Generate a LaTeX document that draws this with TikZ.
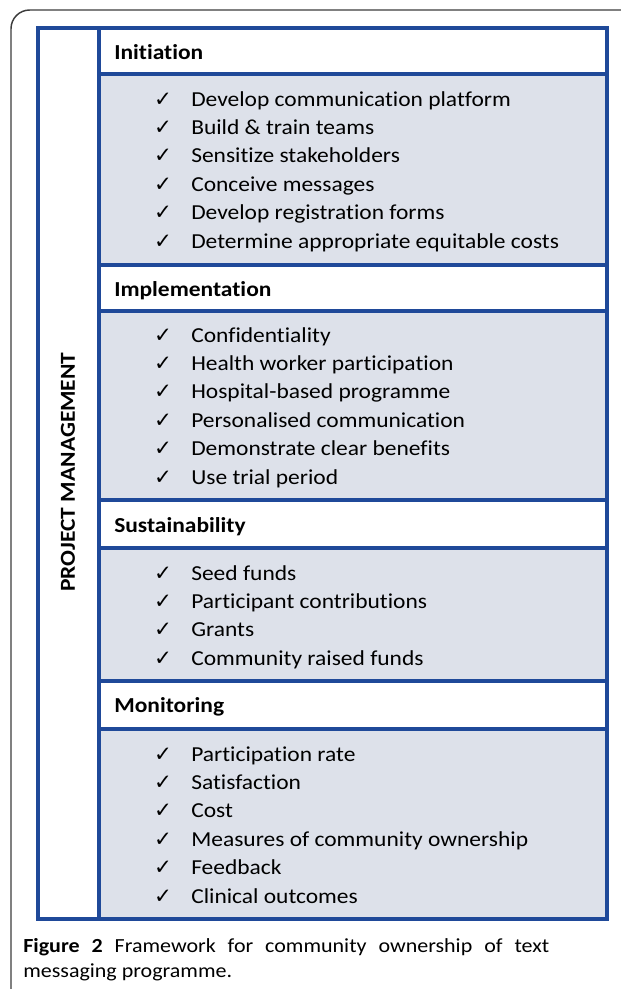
\documentclass[tikz,border=0pt]{standalone}
\usepackage{fontspec}
\setmainfont[FakeStretch=1.1,Ligatures=NoCommon]{Carlito}
\newfontfamily\capfont[FakeStretch=1.1,Ligatures=NoCommon]{Carlito}
\newfontfamily\symfont{DejaVu Sans}
\definecolor{frameblue}{RGB}{31,73,153}
\definecolor{boxfill}{RGB}{221,225,234}
\definecolor{outline}{RGB}{60,60,60}

\begin{document}
\begin{tikzpicture}[x=0.75pt,y=-0.75pt,
	hdr/.style={anchor=base west,inner sep=0pt,font=\bfseries\fontsize{16}{19}\selectfont},
	item/.style={anchor=base west,inner sep=0pt,font=\fontsize{16}{19}\selectfont},
	tick/.style={anchor=base,inner sep=0pt,font=\symfont\fontsize{16}{19}\selectfont},
	blueline/.style={frameblue,line width=3pt}]
	
	\useasboundingbox (0,0) rectangle (621,989);
	
	% aeusserer Rahmen
	\draw[outline,line width=1.1pt,rounded corners=14] (11,1000) -- (11,10) -- (640,10);
	
	% Flaechen der Listen
	\fill[boxfill] (98.5,74) rectangle (606.5,264.5);
	\fill[boxfill] (98.5,311) rectangle (606.5,500);
	\fill[boxfill] (98.5,548) rectangle (606.5,680.5);
	\fill[boxfill] (98.5,729) rectangle (606.5,919);
	
	% blaue Linien
	\draw[blueline] (38,28) rectangle (606.5,919);
	\draw[blueline] (98.5,28) -- (98.5,919);
	\foreach \y in {74,264.5,311,500,548,680.5,729}
		\draw[blueline] (98.5,\y) -- (606.5,\y);
	
	% linke Spalte
	\node[rotate=90,font=\bfseries\fontsize{16}{19}\selectfont] (pm) at (68,472) {PROJECT MANAGEMENT};
	
	% Initiation
	\node[hdr] (init) at (114,59) {Initiation};
	\foreach \t [count=\i] in {Develop communication platform, Build \& train teams,
		Sensitize stakeholders, Conceive messages, Develop registration forms,
		Determine appropriate equitable costs} {
		\node[tick] (init-tick-\i) at (163,{106+28.4*(\i-1)}) {✓};
		\node[item] (init-\i) at (191,{106+28.4*(\i-1)}) {\t};
	}
	
	% Implementation
	\node[hdr] (impl) at (114,296) {Implementation};
	\foreach \t [count=\i] in {Confidentiality, Health worker participation,
		Hospital-based programme, Personalised communication,
		Demonstrate clear benefits, Use trial period} {
		\node[tick] (impl-tick-\i) at (163,{342+28.4*(\i-1)}) {✓};
		\node[item] (impl-\i) at (191,{342+28.4*(\i-1)}) {\t};
	}
	
	% Sustainability
	\node[hdr] (sust) at (114,532) {Sustainability};
	\foreach \t [count=\i] in {Seed funds, Participant contributions, Grants,
		Community raised funds} {
		\node[tick] (sust-tick-\i) at (163,{580+28.4*(\i-1)}) {✓};
		\node[item] (sust-\i) at (191,{580+28.4*(\i-1)}) {\t};
	}
	
	% Monitoring
	\node[hdr] (moni) at (114,712) {Monitoring};
	\foreach \t [count=\i] in {Participation rate, Satisfaction, Cost,
		Measures of community ownership, Feedback, Clinical outcomes} {
		\node[tick] (moni-tick-\i) at (163,{761+28.4*(\i-1)}) {✓};
		\node[item] (moni-\i) at (191,{761+28.4*(\i-1)}) {\t};
	}
	
	% Bildunterschrift
	\node[anchor=north west,inner sep=0pt,text width=394.5pt,align=justify,
		font=\capfont\fontsize{15}{18.75}\selectfont] (caption) at (23,938)
		{\textbf{Figure 2} Framework for community ownership of text\linebreak messaging programme.};
	
\end{tikzpicture}
\end{document}
